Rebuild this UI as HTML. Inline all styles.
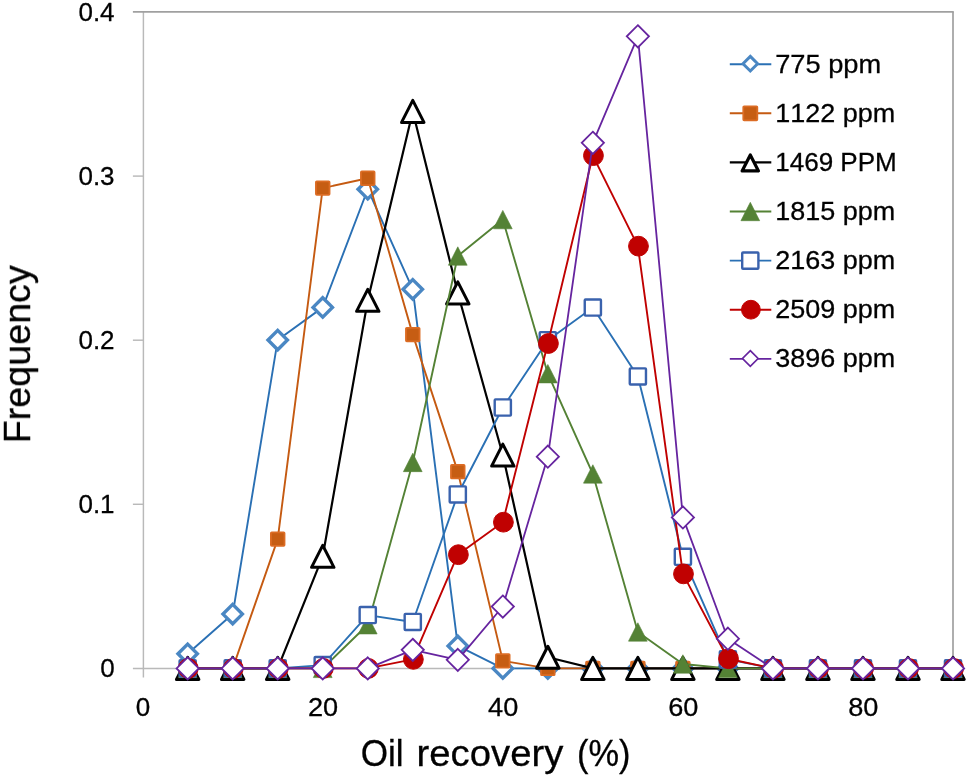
<!DOCTYPE html>
<html lang="en"><head><meta charset="utf-8"><title>Oil recovery frequency</title>
<style>
html,body{margin:0;padding:0;background:#fff;}
body{width:968px;height:778px;overflow:hidden;}
svg{display:block;}
text{font-family:"Liberation Sans",sans-serif;fill:#000;stroke:#000;stroke-width:0.3px;font-kerning:none;}
.tick{font-size:26px;}
.title{font-size:37.7px;}
</style></head><body>
<svg width="968" height="778" viewBox="0 0 968 778">
<rect width="968" height="778" fill="#fff"/>
<g opacity="0.999">

<g fill="none" stroke-linecap="butt">
<line x1="143.4" y1="11.9" x2="143.4" y2="677.4" stroke="#b9b9b9" stroke-width="1.45"/>
<line x1="132.9" y1="668.4" x2="953.0" y2="668.4" stroke="#b9b9b9" stroke-width="1.45"/>
<line x1="132.9" y1="11.9" x2="953.8" y2="11.9" stroke="#a0a0a0" stroke-width="1.7"/>
<line x1="953.0" y1="11.9" x2="953.0" y2="668.4" stroke="#a0a0a0" stroke-width="1.7"/>
<line x1="132.9" y1="504.3" x2="143.4" y2="504.3" stroke="#b9b9b9" stroke-width="1.45"/>
<line x1="132.9" y1="340.2" x2="143.4" y2="340.2" stroke="#b9b9b9" stroke-width="1.45"/>
<line x1="132.9" y1="176.1" x2="143.4" y2="176.1" stroke="#b9b9b9" stroke-width="1.45"/>
</g>
<text class="tick" x="114.6" y="677" text-anchor="end">0</text>
<text class="tick" x="114.6" y="512.9" text-anchor="end">0.1</text>
<text class="tick" x="114.6" y="348.8" text-anchor="end">0.2</text>
<text class="tick" x="114.6" y="184.7" text-anchor="end">0.3</text>
<text class="tick" x="114.6" y="20.6" text-anchor="end">0.4</text>
<text class="tick" x="143.05" y="716.0" text-anchor="middle">0</text>
<text class="tick" x="323.13" y="716.0" text-anchor="middle" textLength="30.2" lengthAdjust="spacingAndGlyphs">20</text>
<text class="tick" x="503.21" y="716.0" text-anchor="middle" textLength="30.2" lengthAdjust="spacingAndGlyphs">40</text>
<text class="tick" x="683.29" y="716.0" text-anchor="middle" textLength="30.2" lengthAdjust="spacingAndGlyphs">60</text>
<text class="tick" x="863.37" y="716.0" text-anchor="middle" textLength="30.2" lengthAdjust="spacingAndGlyphs">80</text>
<text class="title" y="766"><tspan x="360.7" textLength="42.9" lengthAdjust="spacingAndGlyphs">Oil</tspan> <tspan x="416.6" textLength="146.7" lengthAdjust="spacingAndGlyphs">recovery</tspan> <tspan x="577.1" textLength="53.4" lengthAdjust="spacingAndGlyphs">(%)</tspan></text>
<text class="title" transform="translate(30 354.3) rotate(-90)" text-anchor="middle">Frequency</text>
<g>
<polyline points="187.67,653.8 232.69,614.08 277.71,340.04 322.73,307.38 367.75,189.23 412.77,289.33 457.79,645.92 502.81,668.4 547.83,668.4 592.85,668.4 637.87,668.4 682.89,668.4 727.91,668.4 772.93,668.4 817.95,668.4 862.97,668.4 907.99,668.4 953.01,668.4" fill="none" stroke="#2a70b4" stroke-width="1.9" stroke-linejoin="round"/>
<polygon points="187.67,644.1 197.37,653.8 187.67,663.5 177.97,653.8" fill="#ffffff" stroke="#4a87c3" stroke-width="3.4"/>
<polygon points="232.69,604.38 242.39,614.08 232.69,623.78 222.99,614.08" fill="#ffffff" stroke="#4a87c3" stroke-width="3.4"/>
<polygon points="277.71,330.34 287.41,340.04 277.71,349.74 268.01,340.04" fill="#ffffff" stroke="#4a87c3" stroke-width="3.4"/>
<polygon points="322.73,297.68 332.43,307.38 322.73,317.08 313.03,307.38" fill="#ffffff" stroke="#4a87c3" stroke-width="3.4"/>
<polygon points="367.75,179.53 377.45,189.23 367.75,198.93 358.05,189.23" fill="#ffffff" stroke="#4a87c3" stroke-width="3.4"/>
<polygon points="412.77,279.63 422.47,289.33 412.77,299.03 403.07,289.33" fill="#ffffff" stroke="#4a87c3" stroke-width="3.4"/>
<polygon points="457.79,636.22 467.49,645.92 457.79,655.62 448.09,645.92" fill="#ffffff" stroke="#4a87c3" stroke-width="3.4"/>
<polygon points="502.81,658.7 512.51,668.4 502.81,678.1 493.11,668.4" fill="#ffffff" stroke="#4a87c3" stroke-width="3.4"/>
<polygon points="547.83,658.7 557.53,668.4 547.83,678.1 538.13,668.4" fill="#ffffff" stroke="#4a87c3" stroke-width="3.4"/>
<polygon points="592.85,658.7 602.55,668.4 592.85,678.1 583.15,668.4" fill="#ffffff" stroke="#4a87c3" stroke-width="3.4"/>
<polygon points="637.87,658.7 647.57,668.4 637.87,678.1 628.17,668.4" fill="#ffffff" stroke="#4a87c3" stroke-width="3.4"/>
<polygon points="682.89,658.7 692.59,668.4 682.89,678.1 673.19,668.4" fill="#ffffff" stroke="#4a87c3" stroke-width="3.4"/>
<polygon points="727.91,658.7 737.61,668.4 727.91,678.1 718.21,668.4" fill="#ffffff" stroke="#4a87c3" stroke-width="3.4"/>
<polygon points="772.93,658.7 782.63,668.4 772.93,678.1 763.23,668.4" fill="#ffffff" stroke="#4a87c3" stroke-width="3.4"/>
<polygon points="817.95,658.7 827.65,668.4 817.95,678.1 808.25,668.4" fill="#ffffff" stroke="#4a87c3" stroke-width="3.4"/>
<polygon points="862.97,658.7 872.67,668.4 862.97,678.1 853.27,668.4" fill="#ffffff" stroke="#4a87c3" stroke-width="3.4"/>
<polygon points="907.99,658.7 917.69,668.4 907.99,678.1 898.29,668.4" fill="#ffffff" stroke="#4a87c3" stroke-width="3.4"/>
<polygon points="953.01,658.7 962.71,668.4 953.01,678.1 943.31,668.4" fill="#ffffff" stroke="#4a87c3" stroke-width="3.4"/>
</g>
<g>
<polyline points="187.67,668.4 232.69,668.4 277.71,539.09 322.73,188.08 367.75,178.23 412.77,334.62 457.79,471.64 502.81,660.85 547.83,668.4 592.85,668.4 637.87,668.4 682.89,668.4 727.91,668.4 772.93,668.4 817.95,668.4 862.97,668.4 907.99,668.4 953.01,668.4" fill="none" stroke="#c55a11" stroke-width="1.9" stroke-linejoin="round"/>
<rect x="180.87" y="661.6" width="13.6" height="13.6" rx="0.8" fill="#c65d13" stroke="#dc6c24" stroke-width="1.8"/>
<rect x="225.89" y="661.6" width="13.6" height="13.6" rx="0.8" fill="#c65d13" stroke="#dc6c24" stroke-width="1.8"/>
<rect x="270.91" y="532.29" width="13.6" height="13.6" rx="0.8" fill="#c65d13" stroke="#dc6c24" stroke-width="1.8"/>
<rect x="315.93" y="181.28" width="13.6" height="13.6" rx="0.8" fill="#c65d13" stroke="#dc6c24" stroke-width="1.8"/>
<rect x="360.95" y="171.43" width="13.6" height="13.6" rx="0.8" fill="#c65d13" stroke="#dc6c24" stroke-width="1.8"/>
<rect x="405.97" y="327.82" width="13.6" height="13.6" rx="0.8" fill="#c65d13" stroke="#dc6c24" stroke-width="1.8"/>
<rect x="450.99" y="464.84" width="13.6" height="13.6" rx="0.8" fill="#c65d13" stroke="#dc6c24" stroke-width="1.8"/>
<rect x="496.01" y="654.05" width="13.6" height="13.6" rx="0.8" fill="#c65d13" stroke="#dc6c24" stroke-width="1.8"/>
<rect x="541.03" y="661.6" width="13.6" height="13.6" rx="0.8" fill="#c65d13" stroke="#dc6c24" stroke-width="1.8"/>
<rect x="586.05" y="661.6" width="13.6" height="13.6" rx="0.8" fill="#c65d13" stroke="#dc6c24" stroke-width="1.8"/>
<rect x="631.07" y="661.6" width="13.6" height="13.6" rx="0.8" fill="#c65d13" stroke="#dc6c24" stroke-width="1.8"/>
<rect x="676.09" y="661.6" width="13.6" height="13.6" rx="0.8" fill="#c65d13" stroke="#dc6c24" stroke-width="1.8"/>
<rect x="721.11" y="661.6" width="13.6" height="13.6" rx="0.8" fill="#c65d13" stroke="#dc6c24" stroke-width="1.8"/>
<rect x="766.13" y="661.6" width="13.6" height="13.6" rx="0.8" fill="#c65d13" stroke="#dc6c24" stroke-width="1.8"/>
<rect x="811.15" y="661.6" width="13.6" height="13.6" rx="0.8" fill="#c65d13" stroke="#dc6c24" stroke-width="1.8"/>
<rect x="856.17" y="661.6" width="13.6" height="13.6" rx="0.8" fill="#c65d13" stroke="#dc6c24" stroke-width="1.8"/>
<rect x="901.19" y="661.6" width="13.6" height="13.6" rx="0.8" fill="#c65d13" stroke="#dc6c24" stroke-width="1.8"/>
<rect x="946.21" y="661.6" width="13.6" height="13.6" rx="0.8" fill="#c65d13" stroke="#dc6c24" stroke-width="1.8"/>
</g>
<g>
<polyline points="187.67,668.4 232.69,668.4 277.71,668.4 322.73,556.32 367.75,300.32 412.77,111.44 457.79,292.94 502.81,455.07 547.83,657.24 592.85,668.4 637.87,668.4 682.89,668.4 727.91,668.4 772.93,668.4 817.95,668.4 862.97,668.4 907.99,668.4 953.01,668.4" fill="none" stroke="#000000" stroke-width="2.2" stroke-linejoin="round"/>
<polygon points="187.67,657.4 198.89,679.4 176.45,679.4" fill="#ffffff" stroke="#000000" stroke-width="3.0" stroke-linejoin="round"/>
<polygon points="232.69,657.4 243.91,679.4 221.47,679.4" fill="#ffffff" stroke="#000000" stroke-width="3.0" stroke-linejoin="round"/>
<polygon points="277.71,657.4 288.93,679.4 266.49,679.4" fill="#ffffff" stroke="#000000" stroke-width="3.0" stroke-linejoin="round"/>
<polygon points="322.73,545.32 333.95,567.32 311.51,567.32" fill="#ffffff" stroke="#000000" stroke-width="3.0" stroke-linejoin="round"/>
<polygon points="367.75,289.32 378.97,311.32 356.53,311.32" fill="#ffffff" stroke="#000000" stroke-width="3.0" stroke-linejoin="round"/>
<polygon points="412.77,100.44 423.99,122.44 401.55,122.44" fill="#ffffff" stroke="#000000" stroke-width="3.0" stroke-linejoin="round"/>
<polygon points="457.79,281.94 469.01,303.94 446.57,303.94" fill="#ffffff" stroke="#000000" stroke-width="3.0" stroke-linejoin="round"/>
<polygon points="502.81,444.07 514.03,466.07 491.59,466.07" fill="#ffffff" stroke="#000000" stroke-width="3.0" stroke-linejoin="round"/>
<polygon points="547.83,646.24 559.05,668.24 536.61,668.24" fill="#ffffff" stroke="#000000" stroke-width="3.0" stroke-linejoin="round"/>
<polygon points="592.85,657.4 604.07,679.4 581.63,679.4" fill="#ffffff" stroke="#000000" stroke-width="3.0" stroke-linejoin="round"/>
<polygon points="637.87,657.4 649.09,679.4 626.65,679.4" fill="#ffffff" stroke="#000000" stroke-width="3.0" stroke-linejoin="round"/>
<polygon points="682.89,657.4 694.11,679.4 671.67,679.4" fill="#ffffff" stroke="#000000" stroke-width="3.0" stroke-linejoin="round"/>
<polygon points="727.91,657.4 739.13,679.4 716.69,679.4" fill="#ffffff" stroke="#000000" stroke-width="3.0" stroke-linejoin="round"/>
<polygon points="772.93,657.4 784.15,679.4 761.71,679.4" fill="#ffffff" stroke="#000000" stroke-width="3.0" stroke-linejoin="round"/>
<polygon points="817.95,657.4 829.17,679.4 806.73,679.4" fill="#ffffff" stroke="#000000" stroke-width="3.0" stroke-linejoin="round"/>
<polygon points="862.97,657.4 874.19,679.4 851.75,679.4" fill="#ffffff" stroke="#000000" stroke-width="3.0" stroke-linejoin="round"/>
<polygon points="907.99,657.4 919.21,679.4 896.77,679.4" fill="#ffffff" stroke="#000000" stroke-width="3.0" stroke-linejoin="round"/>
<polygon points="953.01,657.4 964.23,679.4 941.79,679.4" fill="#ffffff" stroke="#000000" stroke-width="3.0" stroke-linejoin="round"/>
</g>
<g>
<polyline points="187.67,668.4 232.69,668.4 277.71,668.4 322.73,668.4 367.75,624.75 412.77,462.45 457.79,256.02 502.81,219.59 547.83,373.68 592.85,473.94 637.87,631.97 682.89,663.97 727.91,668.4 772.93,668.4 817.95,668.4 862.97,668.4 907.99,668.4 953.01,668.4" fill="none" stroke="#548235" stroke-width="1.9" stroke-linejoin="round"/>
<polygon points="187.67,659.2 197.05,677.6 178.29,677.6" fill="#548235" stroke="#548235" stroke-width="0.6" stroke-linejoin="round"/>
<polygon points="232.69,659.2 242.07,677.6 223.31,677.6" fill="#548235" stroke="#548235" stroke-width="0.6" stroke-linejoin="round"/>
<polygon points="277.71,659.2 287.09,677.6 268.33,677.6" fill="#548235" stroke="#548235" stroke-width="0.6" stroke-linejoin="round"/>
<polygon points="322.73,659.2 332.11,677.6 313.35,677.6" fill="#548235" stroke="#548235" stroke-width="0.6" stroke-linejoin="round"/>
<polygon points="367.75,615.55 377.13,633.95 358.37,633.95" fill="#548235" stroke="#548235" stroke-width="0.6" stroke-linejoin="round"/>
<polygon points="412.77,453.25 422.15,471.65 403.39,471.65" fill="#548235" stroke="#548235" stroke-width="0.6" stroke-linejoin="round"/>
<polygon points="457.79,246.82 467.17,265.22 448.41,265.22" fill="#548235" stroke="#548235" stroke-width="0.6" stroke-linejoin="round"/>
<polygon points="502.81,210.39 512.19,228.79 493.43,228.79" fill="#548235" stroke="#548235" stroke-width="0.6" stroke-linejoin="round"/>
<polygon points="547.83,364.48 557.21,382.88 538.45,382.88" fill="#548235" stroke="#548235" stroke-width="0.6" stroke-linejoin="round"/>
<polygon points="592.85,464.74 602.23,483.14 583.47,483.14" fill="#548235" stroke="#548235" stroke-width="0.6" stroke-linejoin="round"/>
<polygon points="637.87,622.77 647.25,641.17 628.49,641.17" fill="#548235" stroke="#548235" stroke-width="0.6" stroke-linejoin="round"/>
<polygon points="682.89,654.77 692.27,673.17 673.51,673.17" fill="#548235" stroke="#548235" stroke-width="0.6" stroke-linejoin="round"/>
<polygon points="727.91,659.2 737.29,677.6 718.53,677.6" fill="#548235" stroke="#548235" stroke-width="0.6" stroke-linejoin="round"/>
<polygon points="772.93,659.2 782.31,677.6 763.55,677.6" fill="#548235" stroke="#548235" stroke-width="0.6" stroke-linejoin="round"/>
<polygon points="817.95,659.2 827.33,677.6 808.57,677.6" fill="#548235" stroke="#548235" stroke-width="0.6" stroke-linejoin="round"/>
<polygon points="862.97,659.2 872.35,677.6 853.59,677.6" fill="#548235" stroke="#548235" stroke-width="0.6" stroke-linejoin="round"/>
<polygon points="907.99,659.2 917.37,677.6 898.61,677.6" fill="#548235" stroke="#548235" stroke-width="0.6" stroke-linejoin="round"/>
<polygon points="953.01,659.2 962.39,677.6 943.63,677.6" fill="#548235" stroke="#548235" stroke-width="0.6" stroke-linejoin="round"/>
</g>
<g>
<polyline points="187.67,668.4 232.69,668.4 277.71,668.4 322.73,665.12 367.75,615.07 412.77,621.96 457.79,494.45 502.81,407.48 547.83,340.2 592.85,307.54 637.87,376.47 682.89,556.81 727.91,659.37 772.93,668.4 817.95,668.4 862.97,668.4 907.99,668.4 953.01,668.4" fill="none" stroke="#2a70b4" stroke-width="1.9" stroke-linejoin="round"/>
<rect x="179.57" y="660.3" width="16.2" height="16.2" rx="0.8" fill="#ffffff" stroke="#3a62ad" stroke-width="2.4"/>
<rect x="224.59" y="660.3" width="16.2" height="16.2" rx="0.8" fill="#ffffff" stroke="#3a62ad" stroke-width="2.4"/>
<rect x="269.61" y="660.3" width="16.2" height="16.2" rx="0.8" fill="#ffffff" stroke="#3a62ad" stroke-width="2.4"/>
<rect x="314.63" y="657.02" width="16.2" height="16.2" rx="0.8" fill="#ffffff" stroke="#3a62ad" stroke-width="2.4"/>
<rect x="359.65" y="606.97" width="16.2" height="16.2" rx="0.8" fill="#ffffff" stroke="#3a62ad" stroke-width="2.4"/>
<rect x="404.67" y="613.86" width="16.2" height="16.2" rx="0.8" fill="#ffffff" stroke="#3a62ad" stroke-width="2.4"/>
<rect x="449.69" y="486.35" width="16.2" height="16.2" rx="0.8" fill="#ffffff" stroke="#3a62ad" stroke-width="2.4"/>
<rect x="494.71" y="399.38" width="16.2" height="16.2" rx="0.8" fill="#ffffff" stroke="#3a62ad" stroke-width="2.4"/>
<rect x="539.73" y="332.1" width="16.2" height="16.2" rx="0.8" fill="#ffffff" stroke="#3a62ad" stroke-width="2.4"/>
<rect x="584.75" y="299.44" width="16.2" height="16.2" rx="0.8" fill="#ffffff" stroke="#3a62ad" stroke-width="2.4"/>
<rect x="629.77" y="368.37" width="16.2" height="16.2" rx="0.8" fill="#ffffff" stroke="#3a62ad" stroke-width="2.4"/>
<rect x="674.79" y="548.71" width="16.2" height="16.2" rx="0.8" fill="#ffffff" stroke="#3a62ad" stroke-width="2.4"/>
<rect x="719.81" y="651.27" width="16.2" height="16.2" rx="0.8" fill="#ffffff" stroke="#3a62ad" stroke-width="2.4"/>
<rect x="764.83" y="660.3" width="16.2" height="16.2" rx="0.8" fill="#ffffff" stroke="#3a62ad" stroke-width="2.4"/>
<rect x="809.85" y="660.3" width="16.2" height="16.2" rx="0.8" fill="#ffffff" stroke="#3a62ad" stroke-width="2.4"/>
<rect x="854.87" y="660.3" width="16.2" height="16.2" rx="0.8" fill="#ffffff" stroke="#3a62ad" stroke-width="2.4"/>
<rect x="899.89" y="660.3" width="16.2" height="16.2" rx="0.8" fill="#ffffff" stroke="#3a62ad" stroke-width="2.4"/>
<rect x="944.91" y="660.3" width="16.2" height="16.2" rx="0.8" fill="#ffffff" stroke="#3a62ad" stroke-width="2.4"/>
</g>
<g>
<polyline points="187.67,668.4 232.69,668.4 277.71,668.4 322.73,668.4 367.75,668.4 412.77,659.37 457.79,554.68 502.81,522.19 547.83,343.48 592.85,155.59 637.87,246.17 682.89,573.88 727.91,658.72 772.93,668.4 817.95,668.4 862.97,668.4 907.99,668.4 953.01,668.4" fill="none" stroke="#c00000" stroke-width="1.9" stroke-linejoin="round"/>
<circle cx="188.27" cy="668.4" r="9.9" fill="#c00000" stroke="#c00000" stroke-width="1.0"/>
<circle cx="233.29" cy="668.4" r="9.9" fill="#c00000" stroke="#c00000" stroke-width="1.0"/>
<circle cx="278.31" cy="668.4" r="9.9" fill="#c00000" stroke="#c00000" stroke-width="1.0"/>
<circle cx="323.33" cy="668.4" r="9.9" fill="#c00000" stroke="#c00000" stroke-width="1.0"/>
<circle cx="368.35" cy="668.4" r="9.9" fill="#c00000" stroke="#c00000" stroke-width="1.0"/>
<circle cx="413.37" cy="659.37" r="9.9" fill="#c00000" stroke="#c00000" stroke-width="1.0"/>
<circle cx="458.39" cy="554.68" r="9.9" fill="#c00000" stroke="#c00000" stroke-width="1.0"/>
<circle cx="503.41" cy="522.19" r="9.9" fill="#c00000" stroke="#c00000" stroke-width="1.0"/>
<circle cx="548.43" cy="343.48" r="9.9" fill="#c00000" stroke="#c00000" stroke-width="1.0"/>
<circle cx="593.45" cy="155.59" r="9.9" fill="#c00000" stroke="#c00000" stroke-width="1.0"/>
<circle cx="638.47" cy="246.17" r="9.9" fill="#c00000" stroke="#c00000" stroke-width="1.0"/>
<circle cx="683.49" cy="573.88" r="9.9" fill="#c00000" stroke="#c00000" stroke-width="1.0"/>
<circle cx="728.51" cy="658.72" r="9.9" fill="#c00000" stroke="#c00000" stroke-width="1.0"/>
<circle cx="773.53" cy="668.4" r="9.9" fill="#c00000" stroke="#c00000" stroke-width="1.0"/>
<circle cx="818.55" cy="668.4" r="9.9" fill="#c00000" stroke="#c00000" stroke-width="1.0"/>
<circle cx="863.57" cy="668.4" r="9.9" fill="#c00000" stroke="#c00000" stroke-width="1.0"/>
<circle cx="908.59" cy="668.4" r="9.9" fill="#c00000" stroke="#c00000" stroke-width="1.0"/>
<circle cx="953.61" cy="668.4" r="9.9" fill="#c00000" stroke="#c00000" stroke-width="1.0"/>
</g>
<g>
<polyline points="187.67,668.4 232.69,668.4 277.71,668.4 322.73,668.4 367.75,668.4 412.77,649.86 457.79,659.87 502.81,606.53 547.83,456.71 592.85,142.79 637.87,36.29 682.89,517.43 727.91,638.7 772.93,668.4 817.95,668.4 862.97,668.4 907.99,668.4 953.01,668.4" fill="none" stroke="#66249f" stroke-width="1.8" stroke-linejoin="round"/>
<polygon points="187.67,657.3 198.77,668.4 187.67,679.5 176.57,668.4" fill="#ffffff" stroke="#66249f" stroke-width="1.8"/>
<polygon points="232.69,657.3 243.79,668.4 232.69,679.5 221.59,668.4" fill="#ffffff" stroke="#66249f" stroke-width="1.8"/>
<polygon points="277.71,657.3 288.81,668.4 277.71,679.5 266.61,668.4" fill="#ffffff" stroke="#66249f" stroke-width="1.8"/>
<polygon points="322.73,657.3 333.83,668.4 322.73,679.5 311.63,668.4" fill="#ffffff" stroke="#66249f" stroke-width="1.8"/>
<polygon points="367.75,657.3 378.85,668.4 367.75,679.5 356.65,668.4" fill="#ffffff" stroke="#66249f" stroke-width="1.8"/>
<polygon points="412.77,638.76 423.87,649.86 412.77,660.96 401.67,649.86" fill="#ffffff" stroke="#66249f" stroke-width="1.8"/>
<polygon points="457.79,648.77 468.89,659.87 457.79,670.97 446.69,659.87" fill="#ffffff" stroke="#66249f" stroke-width="1.8"/>
<polygon points="502.81,595.43 513.91,606.53 502.81,617.63 491.71,606.53" fill="#ffffff" stroke="#66249f" stroke-width="1.8"/>
<polygon points="547.83,445.61 558.93,456.71 547.83,467.81 536.73,456.71" fill="#ffffff" stroke="#66249f" stroke-width="1.8"/>
<polygon points="592.85,131.69 603.95,142.79 592.85,153.89 581.75,142.79" fill="#ffffff" stroke="#66249f" stroke-width="1.8"/>
<polygon points="637.87,25.19 648.97,36.29 637.87,47.39 626.77,36.29" fill="#ffffff" stroke="#66249f" stroke-width="1.8"/>
<polygon points="682.89,506.33 693.99,517.43 682.89,528.53 671.79,517.43" fill="#ffffff" stroke="#66249f" stroke-width="1.8"/>
<polygon points="727.91,627.6 739.01,638.7 727.91,649.8 716.81,638.7" fill="#ffffff" stroke="#66249f" stroke-width="1.8"/>
<polygon points="772.93,657.3 784.03,668.4 772.93,679.5 761.83,668.4" fill="#ffffff" stroke="#66249f" stroke-width="1.8"/>
<polygon points="817.95,657.3 829.05,668.4 817.95,679.5 806.85,668.4" fill="#ffffff" stroke="#66249f" stroke-width="1.8"/>
<polygon points="862.97,657.3 874.07,668.4 862.97,679.5 851.87,668.4" fill="#ffffff" stroke="#66249f" stroke-width="1.8"/>
<polygon points="907.99,657.3 919.09,668.4 907.99,679.5 896.89,668.4" fill="#ffffff" stroke="#66249f" stroke-width="1.8"/>
<polygon points="953.01,657.3 964.11,668.4 953.01,679.5 941.91,668.4" fill="#ffffff" stroke="#66249f" stroke-width="1.8"/>
</g>
<line x1="729.8" y1="64.2" x2="771.3" y2="64.2" stroke="#2a70b4" stroke-width="1.9"/>
<polygon points="750.3,56.4 757.6,63.7 750.3,71 743,63.7" fill="#ffffff" stroke="#4a87c3" stroke-width="3.0"/>
<text class="tick" x="775.2" y="72.7" textLength="106.0" lengthAdjust="spacingAndGlyphs">775 ppm</text>
<line x1="729.8" y1="113.3" x2="771.3" y2="113.3" stroke="#c55a11" stroke-width="1.9"/>
<rect x="743.3" y="106.3" width="14" height="14" rx="0.8" fill="#c65d13" stroke="#dc6c24" stroke-width="1.8"/>
<text class="tick" x="775.2" y="121.8" textLength="120.0" lengthAdjust="spacingAndGlyphs">1122 ppm</text>
<line x1="729.8" y1="162.4" x2="771.3" y2="162.4" stroke="#000000" stroke-width="2.2"/>
<polygon points="750.3,154.9 758.46,170.9 742.14,170.9" fill="#ffffff" stroke="#000000" stroke-width="3.2" stroke-linejoin="round"/>
<text class="tick" x="775.2" y="170.9" textLength="121.6" lengthAdjust="spacingAndGlyphs">1469 PPM</text>
<line x1="729.8" y1="211.5" x2="771.3" y2="211.5" stroke="#548235" stroke-width="1.9"/>
<polygon points="750.3,202.3 759.68,220.7 740.92,220.7" fill="#548235" stroke="#548235" stroke-width="0.6" stroke-linejoin="round"/>
<text class="tick" x="775.2" y="220" textLength="120.0" lengthAdjust="spacingAndGlyphs">1815 ppm</text>
<line x1="729.8" y1="260.6" x2="771.3" y2="260.6" stroke="#2a70b4" stroke-width="1.9"/>
<rect x="742.2" y="252.5" width="16.2" height="16.2" rx="0.8" fill="#ffffff" stroke="#3a62ad" stroke-width="2.4"/>
<text class="tick" x="775.2" y="269.1" textLength="120.0" lengthAdjust="spacingAndGlyphs">2163 ppm</text>
<line x1="729.8" y1="309.7" x2="771.3" y2="309.7" stroke="#c00000" stroke-width="1.9"/>
<circle cx="750.9" cy="309.7" r="9.4" fill="#c00000" stroke="#c00000" stroke-width="1.0"/>
<text class="tick" x="775.2" y="318.2" textLength="120.0" lengthAdjust="spacingAndGlyphs">2509 ppm</text>
<line x1="729.8" y1="358.8" x2="771.3" y2="358.8" stroke="#66249f" stroke-width="1.8"/>
<polygon points="750.3,350.7 758.1,358.5 750.3,366.3 742.5,358.5" fill="#ffffff" stroke="#66249f" stroke-width="1.7"/>
<text class="tick" x="775.2" y="367.3" textLength="120.0" lengthAdjust="spacingAndGlyphs">3896 ppm</text>
</g></svg></body></html>
